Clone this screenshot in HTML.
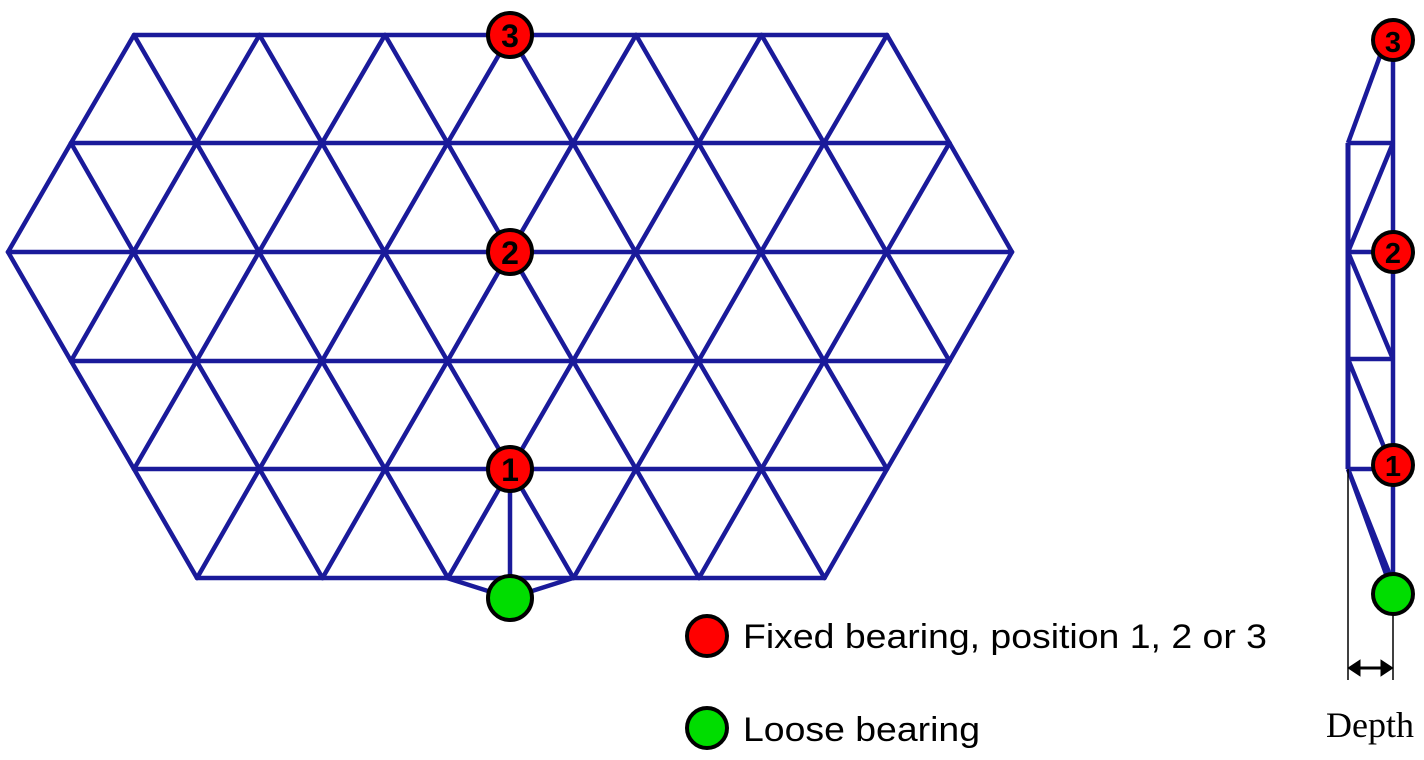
<!DOCTYPE html><html><head><style>body{margin:0;background:#fff}svg{display:block}</style></head><body>
<svg id="s" width="1424" height="760" xmlns="http://www.w3.org/2000/svg">
<g id="g" stroke="#1a1a9a" stroke-width="4.5" stroke-linecap="round"></g>
<g stroke="#1a1a9a" stroke-width="4.5">
<line x1="447" y1="578" x2="510" y2="598"/><line x1="573" y1="578" x2="510" y2="598"/><line x1="510" y1="469" x2="510" y2="598"/>
<line x1="1348" y1="143" x2="1348" y2="469" stroke-width="5"/><line x1="1393" y1="35" x2="1393" y2="590"/>
<line x1="1348" y1="143" x2="1393" y2="143"/><line x1="1348" y1="252" x2="1393" y2="252"/><line x1="1348" y1="359" x2="1393" y2="359"/><line x1="1348" y1="469" x2="1393" y2="469"/>
<line x1="1348" y1="143" x2="1387" y2="37"/><line x1="1348" y1="252" x2="1393" y2="143"/><line x1="1348" y1="252" x2="1393" y2="359"/><line x1="1348" y1="359" x2="1393" y2="469"/><line x1="1348" y1="469" x2="1390" y2="585"/><line x1="1348" y1="469" x2="1394" y2="585"/>
</g>
<g stroke="#000" stroke-width="1.5"><line x1="1348" y1="469" x2="1348" y2="680"/><line x1="1393" y1="600" x2="1393" y2="680"/></g>
<g stroke="#000" stroke-width="3" fill="#000"><line x1="1356" y1="668" x2="1385" y2="668"/><path d="M1350 668 l9 -6 v12z M1391 668 l-9 -6 v12z"/></g>
<g stroke="#000" stroke-width="4">
<circle cx="510" cy="35" r="22" fill="#f00"/><circle cx="510" cy="252" r="22" fill="#f00"/><circle cx="510" cy="469" r="22" fill="#f00"/><circle cx="510" cy="598" r="22" fill="#0d0"/>
<circle cx="1393" cy="40" r="20" fill="#f00"/><circle cx="1393" cy="252" r="20" fill="#f00"/><circle cx="1393" cy="465" r="20" fill="#f00"/><circle cx="1393" cy="594" r="20" fill="#0d0"/>
<circle cx="707" cy="636" r="20" fill="#f00"/><circle cx="707" cy="728" r="20" fill="#0d0"/>
</g>
<g font-family="Liberation Sans, sans-serif" font-weight="bold" font-size="32" text-anchor="middle" fill="#000">
<text x="510" y="47">3</text><text x="510" y="264">2</text><text x="510" y="481">1</text>
<text x="1393" y="52" font-size="29">3</text><text x="1393" y="263" font-size="29">2</text><text x="1393" y="476" font-size="29">1</text>
</g>
<g font-family="Liberation Sans, sans-serif" font-size="34" fill="#000">
<text x="743" y="648" textLength="524" lengthAdjust="spacingAndGlyphs">Fixed bearing, position 1, 2 or 3</text><text x="743" y="741" textLength="237" lengthAdjust="spacingAndGlyphs">Loose bearing</text>
</g>
<text x="1370" y="737" font-family="Liberation Serif, serif" font-size="36" text-anchor="middle">Depth</text>
</svg>
<script>
var rows=[[35,134,887],[143,71,950],[252,8,1013],[361,71,950],[469,134,887],[578,197,824]];
var d=125.5,h=62.75,pts=[];
rows.forEach(function(r,i){for(var x=r[1];x<=r[2]+1;x+=d)pts.push([Math.round(x*100)/100,r[0],i]);});
var out="";
for(var a=0;a<pts.length;a++)for(var b=a+1;b<pts.length;b++){var p=pts[a],q=pts[b];
if((p[2]==q[2]&&Math.abs(p[0]-q[0])<d+2&&Math.abs(p[0]-q[0])>d-2)||(Math.abs(p[2]-q[2])==1&&Math.abs(Math.abs(p[0]-q[0])-h)<2))
out+='<line x1="'+p[0]+'" y1="'+p[1]+'" x2="'+q[0]+'" y2="'+q[1]+'"/>';}
document.getElementById("g").innerHTML=out;
</script>
</body></html>
